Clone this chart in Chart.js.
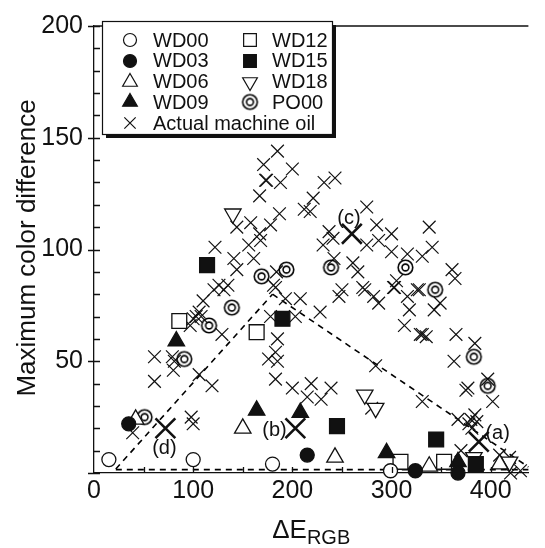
<!DOCTYPE html>
<html>
<head>
<meta charset="utf-8">
<script src="https://cdn.jsdelivr.net/npm/chart.js"></script>
<style>
html, body { margin: 0; padding: 0; background: #fff; }
#wrap { width: 545px; height: 548px; }
</style>
</head>
<body>
<div id="wrap"><canvas id="chart" width="545" height="548"></canvas></div>
<script>
// Scatter: maximum color difference vs dE(RGB), by oil sample
var wd00 = [[15,6],[100,6],[180,4],[299,1]];
var wd03 = [[35,22],[215,8],[324,1],[367,0]];
var wd06 = [[42,24],[150,20],[243,7],[338,3],[409,4]];
var wd09 = [[83,59],[164,28],[208,27],[295,9],[367,5]];
var wd12 = [[86,68],[164,63],[309,5],[353,5]];
var wd15 = [[114,93],[190,69],[245,21],[345,15],[385,4]];
var wd18 = [[140,116],[273,35],[284,29],[383,7],[419,5]];
var po00 = [[51,25],[91,51],[116,66],[139,74],[169,88],[194,91],[239,92],[314,92],[344,82],[383,52],[397,39]];
var machineOil = [
  [171,138],[173,131],[167,124],[144,110],[158,112],[167,107],[178,111],[156,102],[168,104],[122,101],
  [141,96],[161,96],[144,91],[121,82],[126,84],[131,82],[135,84],
  [185,144],[200,136],[174,131],[188,130],[232,130],[243,132],[221,123],[212,118],[218,117],[187,116],
  [275,119],[285,111],[300,107],[338,110],[237,108],[241,105],[231,102],[275,102],[287,104],[300,99],
  [316,98],[331,97],[341,101],[242,96],[261,94],[266,90],[184,90],[181,84],[305,86],[303,83],[250,82],
  [271,83],[326,82],
  [110,77],[103,70],[106,72],[100,69],[108,70],[97,66],[129,62],[61,52],[79,52],[81,50],[80,46],[61,41],
  [106,44],[119,39],[39,18],[98,25],[100,22],
  [183,83],[193,78],[208,78],[178,70],[203,70],[228,72],[247,79],[273,82],[282,79],[287,76],[302,83],
  [316,79],[318,73],[328,82],[343,73],[313,66],[331,62],[185,60],[183,54],[176,51],[185,50],[183,42],
  [284,48],[200,38],[219,40],[239,38],[215,34],[229,33],[280,29],[331,32],
  [375,37],[402,32],[380,24],[384,26],[378,22],[386,23],[381,20],[367,24],[370,10],[409,8],[419,7],
  [420,0],[430,1],
  [361,91],[364,87],[349,76],[329,62],[335,61],[365,62],[384,58],[363,50],[397,42],[377,38]
];
// highlighted samples (a)-(d)
var markNames = ['(a)', '(b)', '(c)', '(d)'];
var markPts = [[388,14],[203,20],[260,107],[72,20]];
var markLabelPos = [[407,17.5],[182,19],[257,114],[71,11]];
// dashed guide lines
var dashUp = [[22,1.8],[180,80]];
var dashDown = [[180,80],[438,2.7]];
var dashBase = [[22,1.5],[438,1.5]];

var FONT = "'Liberation Sans', Arial, Helvetica, sans-serif";

function xy(arr) { return arr.map(function(p) { return { x: p[0], y: p[1] }; }); }

// double circle marker for PO00
var dbl = document.createElement('canvas');
dbl.width = 19; dbl.height = 19;
(function() {
  var c = dbl.getContext('2d');
  c.strokeStyle = '#000'; c.lineWidth = 1.6;
  c.beginPath(); c.arc(9.5, 9.5, 7.3, 0, Math.PI * 2); c.stroke();
  c.beginPath(); c.arc(9.5, 9.5, 3.4, 0, Math.PI * 2); c.stroke();
})();

function pts(label, data, style, radius, fill, extra) {
  var ds = {
    type: 'scatter', label: label, data: xy(data),
    pointStyle: style, pointRadius: radius, pointHoverRadius: radius,
    pointBorderColor: '#111', pointBackgroundColor: fill,
    pointBorderWidth: 1.3, borderColor: '#111', backgroundColor: fill,
    clip: false, order: 1
  };
  if (extra) for (var k in extra) ds[k] = extra[k];
  return ds;
}
function dashed(data) {
  return {
    type: 'line', label: '_dash', data: xy(data), borderColor: '#000', borderWidth: 1.6,
    borderDash: [6, 5], pointRadius: 0, fill: false, clip: false, order: 5
  };
}

var datasets = [
  pts('WD00', wd00, 'circle', 7, '#fff'),
  pts('WD03', wd03, 'circle', 7, '#111'),
  pts('WD06', wd06, 'triangle', 9.5, '#fff'),
  pts('WD09', wd09, 'triangle', 9.5, '#111'),
  pts('WD12', wd12, 'rect', 10.5, '#fff'),
  pts('WD15', wd15, 'rect', 10.5, '#111'),
  pts('WD18', wd18, 'triangle', 9.5, '#fff', { pointRotation: 180 }),
  pts('PO00', po00, dbl, 8, '#fff'),
  pts('Actual machine oil', machineOil, 'crossRot', 9, '#111', { pointBorderWidth: 1.2, order: 2 }),
  pts('_marks', markPts, 'crossRot', 14, '#111', { pointBorderWidth: 2.6 }),
  dashed(dashUp), dashed(dashDown), dashed(dashBase)
];

// legend layout: two columns, last entry on its own row
var legendRows = [
  ['WD00', 'WD12'], ['WD03', 'WD15'], ['WD06', 'WD18'], ['WD09', 'PO00'], ['Actual machine oil']
];

var framePlugin = {
  id: 'frame',
  afterDraw: function(chart) {
    var ctx = chart.ctx, a = chart.chartArea, xs = chart.scales.x, ys = chart.scales.y;
    ctx.save();
    ctx.strokeStyle = '#111'; ctx.lineWidth = 1.3;
    ctx.beginPath();
    ctx.moveTo(a.left, a.top); ctx.lineTo(a.right, a.top);
    for (var v = 0; v <= 200; v += 10) {
      var py = Math.round(ys.getPixelForValue(v)) + 0.5;
      ctx.moveTo(a.left - (v % 50 === 0 ? 6 : 0), py); ctx.lineTo(a.left + 6, py);
    }
    for (var u = 50; u <= 400; u += 50) {
      var px = Math.round(xs.getPixelForValue(u)) + 0.5;
      ctx.moveTo(px, a.bottom); ctx.lineTo(px, a.bottom - 6);
    }
    ctx.stroke();

    // axis titles
    ctx.fillStyle = '#111';
    ctx.save();
    ctx.translate(28, 248); ctx.rotate(-Math.PI / 2);
    ctx.font = '26px ' + FONT; ctx.textAlign = 'center'; ctx.textBaseline = 'middle';
    ctx.fillText('Maximum color difference', 0, 0);
    ctx.restore();
    ctx.textBaseline = 'alphabetic'; ctx.textAlign = 'left';
    ctx.font = '26px ' + FONT;
    var w1 = ctx.measureText('\u0394E').width;
    ctx.font = '20px ' + FONT;
    var w2 = ctx.measureText('RGB').width;
    var x0 = (a.left + a.right) / 2 - (w1 + w2) / 2;
    ctx.font = '26px ' + FONT; ctx.fillText('\u0394E', x0, 538);
    ctx.font = '20px ' + FONT; ctx.fillText('RGB', x0 + w1, 544);

    // labels for highlighted samples
    ctx.font = '20px ' + FONT; ctx.textAlign = 'center'; ctx.textBaseline = 'middle';
    markNames.forEach(function(n, i) {
      ctx.fillText(n, xs.getPixelForValue(markLabelPos[i][0]), ys.getPixelForValue(markLabelPos[i][1]));
    });
    ctx.restore();
  }
};

var legendPlugin = {
  id: 'boxLegend',
  afterDraw: function(chart) {
    var ctx = chart.ctx;
    var bx = 102, by = 21, bw = 230, bh = 113, sh = 4;
    ctx.save();
    ctx.fillStyle = '#111';
    ctx.fillRect(bx + sh, by + sh, bw, bh);
    ctx.fillStyle = '#fff';
    ctx.fillRect(bx, by, bw, bh);
    ctx.strokeStyle = '#111'; ctx.lineWidth = 1.2;
    ctx.strokeRect(bx + 0.5, by + 0.5, bw, bh);

    var byLabel = {};
    chart.data.datasets.forEach(function(d) { byLabel[d.label] = d; });
    var colSym = [130, 250], colTxt = [153, 272];
    ctx.font = '20px ' + FONT; ctx.textBaseline = 'middle'; ctx.textAlign = 'left';
    legendRows.forEach(function(row, r) {
      var y = 40 + r * 20.8;
      row.forEach(function(name, c) {
        var d = byLabel[name];
        var rad = d.pointStyle === 'crossRot' ? 8 : (d.pointStyle === 'rect' ? 9 : (d.pointStyle === 'triangle' ? 8.5 : 6.5));
        ctx.fillStyle = d.pointBackgroundColor; ctx.strokeStyle = '#111'; ctx.lineWidth = 1.2;
        Chart.helpers.drawPoint(ctx, {
          pointStyle: d.pointStyle, rotation: d.pointRotation || 0, radius: rad, borderWidth: 1.2
        }, colSym[c], Math.round(y));
        ctx.fillStyle = '#111';
        ctx.fillText(name, colTxt[c], y + 1);
      });
    });
    ctx.restore();
  }
};

new Chart(document.getElementById('chart'), {
  type: 'scatter',
  data: { datasets: datasets },
  options: {
    responsive: false, animation: false,
    layout: { padding: { top: 21, right: 0, left: 0, bottom: 0 } },
    plugins: { legend: { display: false }, tooltip: { enabled: false } },
    scales: {
      x: {
        type: 'linear', min: 0, max: 438,
        grid: { display: false, drawTicks: false },
        border: { display: true, color: '#111', width: 1.3 },
        ticks: {
          stepSize: 50, includeBounds: false, autoSkip: false, maxRotation: 0, padding: 3,
          color: '#111', font: { size: 25, family: FONT },
          callback: function(v) { return v % 100 === 0 ? v : ''; }
        },
        afterFit: function(s) { s.height = 75; }
      },
      y: {
        type: 'linear', min: 0, max: 200,
        grid: { display: false, drawTicks: false },
        border: { display: true, color: '#111', width: 1.3 },
        ticks: {
          stepSize: 10, autoSkip: false, padding: 11,
          color: '#111', font: { size: 25, family: FONT },
          callback: function(v) { return (v % 50 === 0 && v > 0) ? v : ''; }
        },
        afterFit: function(s) { s.width = 94; }
      }
    }
  },
  plugins: [framePlugin, legendPlugin]
});
</script>
</body>
</html>
